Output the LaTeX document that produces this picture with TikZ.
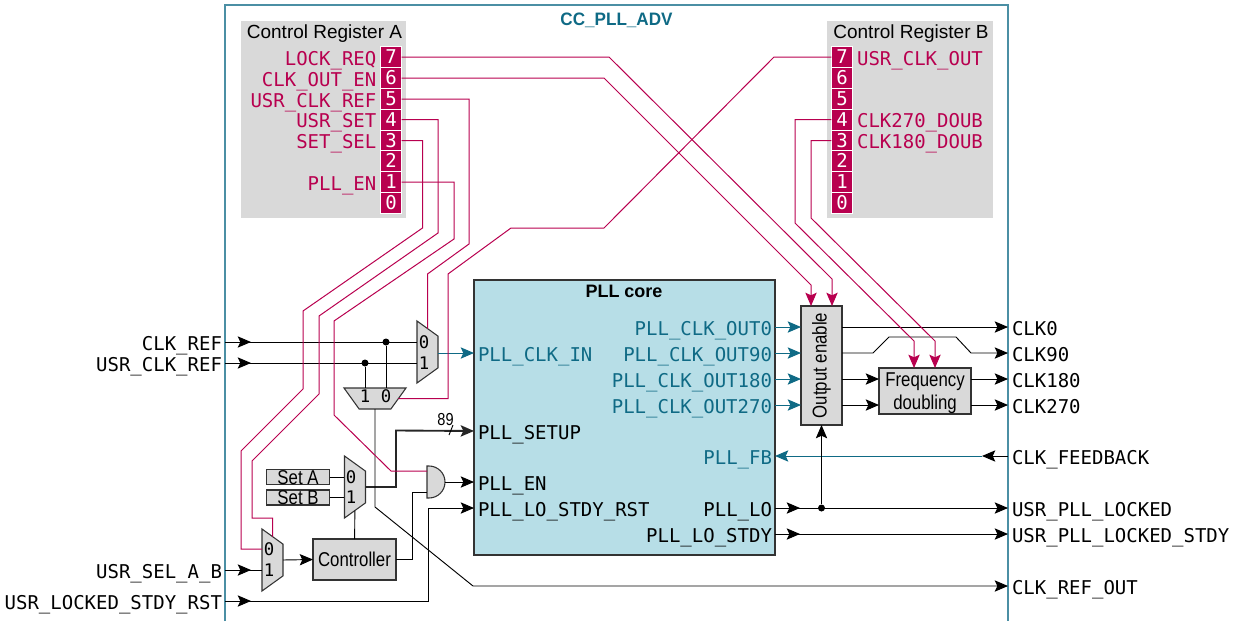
\documentclass[tikz,border=0pt]{standalone}
\usepackage{fontspec}
\usepackage{xcolor}
\setmainfont{Liberation Sans}
\newfontfamily\monofnt{DejaVu Sans Mono}
\newfontfamily\condfnt[FakeStretch=0.84]{Liberation Sans}
\newfontfamily\ttlfnt[FakeStretch=0.95]{Liberation Sans}
\definecolor{regred}{HTML}{B8004F}
\definecolor{pltblue}{HTML}{0F6A85}
\definecolor{coreblue}{HTML}{B7DEE7}
\definecolor{boxgray}{HTML}{D9D9D9}
\usetikzlibrary{arrows.meta,positioning,shapes.geometric,decorations.markings}

\begin{document}
\begin{tikzpicture}[x=0.75pt,y=-0.75pt,
  tip/.style={-{Stealth[length=10pt,width=8.5pt,inset=2pt]}},
  wire/.style={line width=0.7pt,color=black},
  redw/.style={line width=0.75pt,color=regred},
  bluw/.style={line width=0.75pt,color=pltblue},
  midtip/.style={postaction={decorate},decoration={markings,
    mark=at position #1 with {\arrow{Stealth[length=10pt,width=8.5pt,inset=2pt]}}}},
  pin/.style={font=\monofnt\fontsize{14.25}{16}\selectfont,inner xsep=3pt,inner ysep=1pt,
              text height=12pt,text depth=0pt,outer sep=0pt},
  pinl/.style={pin,anchor=east,inner xsep=2.25pt},
  pinr/.style={pin,anchor=west},
  digit/.style={font=\monofnt\fontsize{13}{15}\selectfont,inner xsep=1.3pt,inner ysep=1.25pt,
                text height=9.5pt,text depth=0pt,outer sep=0pt},
  regbox/.style={fill=boxgray,minimum width=124pt,minimum height=147.75pt,inner sep=0pt},
  regbit/.style={draw=white,line width=0.6pt,fill=regred,text=white,
                 font=\monofnt\fontsize{14.25}{16}\selectfont,minimum width=15.4pt,
                 minimum height=15.6pt,inner sep=0pt,text height=10.4pt,text depth=0pt},
  regtxt/.style={pin,text=regred},
  box/.style={draw=black!80,line width=0.8pt,fill=boxgray,inner sep=0pt,outer sep=0pt,text depth=0pt,
              align=center,font=\condfnt\fontsize{15}{17.25}\selectfont},
  muxv/.style={trapezium,shape border rotate=270,trapezium stretches=true,trapezium angle=64.5,
               draw=black!80,line width=0.8pt,fill=boxgray,inner sep=1pt,outer sep=0pt,
               minimum width=46.5pt,minimum height=15.75pt},
  muxh/.style={trapezium,shape border rotate=180,trapezium stretches=true,trapezium angle=64.5,
               draw=black!80,line width=0.8pt,fill=boxgray,inner sep=1pt,outer sep=0pt,
               minimum width=46.5pt,minimum height=15.75pt},
  dot/.style={circle,fill=black,inner sep=0pt,minimum size=5.25pt}]
  \useasboundingbox (0,0) rectangle (1237,621);
  % frame
  \coordinate (fbl) at (225,621);\coordinate (ftl) at (225,5);
  \coordinate (ftr) at (1008,5);\coordinate (fbr) at (1008,621);
  \draw[color=pltblue!75,line width=1pt] (fbl)--(ftl)--(ftr)--(fbr);
  \node[font=\ttlfnt\fontsize{13.5}{16}\selectfont\bfseries,text=pltblue] (title) at (616.5,20) {CC\_PLL\_ADV};
  % control registers
  \node[regbox] (rega) at (323.5,119.5) {};
  \node[regbox] (regb) at (910,119.5) {};
  \node[font=\fontsize{14.25}{16}\selectfont] (ttla) at (324.5,33.5) {Control Register A};
  \node[font=\fontsize{14.25}{16}\selectfont] (ttlb) at (911,33.5) {Control Register B};
  \foreach \b/\y in {7/57,6/78,5/99,4/119.5,3/140.5,2/161,1/182,0/202.5}{
    \node[regbit] (a\b) at (391,\y) {\b};
    \node[regbit] (b\b) at (842,\y) {\b};
  }
  \foreach \b/\t in {7/LOCK\_REQ,6/CLK\_OUT\_EN,5/USR\_CLK\_REF,4/USR\_SET,3/SET\_SEL,1/PLL\_EN}
    \node[regtxt,left=0pt of a\b] (la\b) {\t};
  \foreach \b/\t in {7/USR\_CLK\_OUT,4/CLK270\_DOUB,3/CLK180\_DOUB}
    \node[regtxt,right=0.3pt of b\b] (lb\b) {\t};
  % PLL core
  \node[draw=black!80,line width=0.8pt,fill=coreblue,minimum width=225.75pt,minimum height=206.25pt,
        inner sep=0pt,outer sep=0pt] (core) at (624.5,417.5) {};
  \node[font=\fontsize{13.5}{16}\selectfont\bfseries] (ttlc) at (624,291) {PLL core};
  \node[pinr,text=pltblue] (pin) at (474,353) {PLL\_CLK\_IN};
  \node[pinr] (pset) at (474,431) {PLL\_SETUP};
  \node[pinr] (pen) at (474,482) {PLL\_EN};
  \node[pinr] (prst) at (474,508) {PLL\_LO\_STDY\_RST};
  \node[pinl,text=pltblue] (p0) at (775,327) {PLL\_CLK\_OUT0};
  \node[pinl,text=pltblue] (p90) at (775,353) {PLL\_CLK\_OUT90};
  \node[pinl,text=pltblue] (p180) at (775,379) {PLL\_CLK\_OUT180};
  \node[pinl,text=pltblue] (p270) at (775,405) {PLL\_CLK\_OUT270};
  \node[pinl,text=pltblue] (pfb) at (775,456) {PLL\_FB};
  \node[pinl] (plo) at (775,508) {PLL\_LO};
  \node[pinl] (psd) at (775,534) {PLL\_LO\_STDY};
  % outer pins
  \node[pinl] (clkref) at (225,342) {CLK\_REF};
  \node[pinl] (usrref) at (225,363) {USR\_CLK\_REF};
  \node[pinl] (usrsel) at (225,570) {USR\_SEL\_A\_B};
  \node[pinl] (usrrst) at (225,601) {USR\_LOCKED\_STDY\_RST};
  \node[pinr] (clk0) at (1008,327) {CLK0};
  \node[pinr] (clk90) at (1008,353) {CLK90};
  \node[pinr] (clk180) at (1008,379) {CLK180};
  \node[pinr] (clk270) at (1008,405) {CLK270};
  \node[pinr] (clkfb) at (1008,456) {CLK\_FEEDBACK};
  \node[pinr] (lock) at (1008,508) {USR\_PLL\_LOCKED};
  \node[pinr] (locks) at (1008,534) {USR\_PLL\_LOCKED\_STDY};
  \node[pinr] (refout) at (1008,586) {CLK\_REF\_OUT};
  % blocks
  \node[box,minimum width=30.75pt,minimum height=89.25pt] (oe) at (821.5,365.5) {\rotatebox{90}{Output enable}};
  \node[box,minimum width=69pt,minimum height=34.5pt] (fd) at (925,391) {Frequency\\doubling};
  \node[box,minimum width=62.25pt,minimum height=30.75pt] (ctrl) at (354.5,559.5) {Controller};
  \node[box,minimum width=47.25pt,minimum height=11.25pt,text height=10.7pt] (seta) at (298,477) {Set A};
  \node[box,minimum width=47.25pt,minimum height=11.25pt,text height=10.7pt] (setb) at (298,497.5) {Set B};
  % muxes
  \node[muxv] (mclk) at (427.5,352) {};
  \node[digit] (mclk0) at (424,342) {0};
  \node[digit] (mclk1) at (424,363) {1};
  \node[muxh] (mout) at (375,398.5) {};
  \node[digit] (mout1) at (365,396) {1};
  \node[digit] (mout0) at (386,396) {0};
  \node[muxv] (mset) at (355,487) {};
  \node[digit] (mset0) at (351,477) {0};
  \node[digit] (mset1) at (351,497.5) {1};
  \node[muxv] (msel) at (272.5,560) {};
  \node[digit] (msel0) at (269,549) {0};
  \node[digit] (msel1) at (269,570) {1};
  % and gate
  \coordinate (andt) at (427,466);\coordinate (andb) at (427,498);
  \coordinate (and1) at (427,471);\coordinate (and2) at (427,492);\coordinate (ando) at (445,482);
  \draw[draw=black!80,line width=0.8pt,fill=boxgray] (andt)--(429,466) arc[start angle=90,end angle=-90,radius=12pt]--(andb)--cycle;
  % clock path
  \node[dot] (d0) at (386,342) {};
  \node[dot] (d1) at (365,363) {};
  \draw[wire,midtip=19.5pt] (clkref.east)--(mclk0.west);
  \draw[wire,midtip=19.5pt] (usrref.east)--(mclk1.west);
  \draw[wire] (d0)--(mout0.north);
  \draw[wire] (d1)--(mout1.north);
  \draw[bluw,tip] (mclk.east|-pin)--(pin.west);
  \draw[wire,midtip=19.5pt] (usrsel.east)--(msel1.west);
  \draw[wire,tip] (msel.east)--(ctrl.west);
  \draw[wire] (seta)--(mset0.west);
  \draw[wire] (setb)--(mset1.west);
  \draw[wire] (ctrl)--(mset);
  \draw[line width=1.4pt,color=black!85,tip] (mset.east)--(396,487)--(396,430.5)--(pset.west);
  \coordinate (sla) at (453,425);\coordinate (slb) at (449,435);
  \draw[wire] (sla)--(slb);
  \node[font=\condfnt\fontsize{13}{15}\selectfont,inner sep=0pt] (nbus) at (445.5,420) {89};
  \draw[wire] (ctrl.east)--(412,559.5)--(412,492)--(and2);
  \draw[wire,tip] (ando)--(pen.west);
  \draw[wire,midtip=19.5pt,tip] (usrrst.east)--(428,601)--(428,508)--(prst.west);
  \draw[wire,tip] (mout.south)--(375,507)--(473,586)--(refout.west);
  % output side
  \foreach \p in {p0,p90,p180,p270}
    \draw[bluw,tip] (\p.east)--(\p.east-|oe.west);
  \draw[wire,tip] (oe.east|-clk0)--(clk0.west);
  \draw[wire,tip] (oe.east|-clk90)--(873,353)--(889,337)--(956,337)--(971,353)--(clk90.west);
  \draw[wire,tip] (oe.east|-clk180)--(fd.west|-clk180);
  \draw[wire,tip] (oe.east|-clk270)--(fd.west|-clk270);
  \draw[wire,tip] (fd.east|-clk180)--(clk180.west);
  \draw[wire,tip] (fd.east|-clk270)--(clk270.west);
  \coordinate (fbmid) at (982,456);
  \draw[bluw,tip] (fbmid)--(pfb.east);
  \draw[wire,tip] (clkfb.west)--(fbmid);
  \node[dot] (d2) at (oe.south|-plo) {};
  \draw[wire,midtip=18.75pt,tip] (plo.east)--(lock.west);
  \draw[wire,midtip=18.75pt,tip] (psd.east)--(locks.west);
  \draw[wire,tip] (d2)--(oe.south);
  % control lines
  \draw[redw,tip] (a7.east)--(609,57)--(832,279)--(832,306);
  \draw[redw,tip] (a6.east)--(604,78)--(811,285)--(811,306);
  \draw[redw] (a5.east)--(469,99)--(469,244)--(427.5,274)--(mclk);
  \draw[redw] (a4.east)--(438,119.5)--(438,233)--(319,316)--(319,394)--(252,461)--(252,518)--(272.5,518)--(msel);
  \draw[redw] (a3.east)--(422.5,140.5)--(422.5,228)--(303,311)--(303,389)--(241,451)--(241,549)--(msel0.west);
  \draw[redw] (a1.east)--(454,182)--(454,239)--(334,321)--(334,415)--(391,471)--(and1);
  \draw[redw] (b7.west)--(774,57)--(604,228)--(511,228)--(448,274)--(448,398.5)--(mout.east);
  \draw[redw,tip] (b4.west)--(795,119.5)--(795,223)--(914,341)--(914,368);
  \draw[redw,tip] (b3.west)--(811,140.5)--(811,218)--(935,341)--(935,368);
\end{tikzpicture}
\end{document}
